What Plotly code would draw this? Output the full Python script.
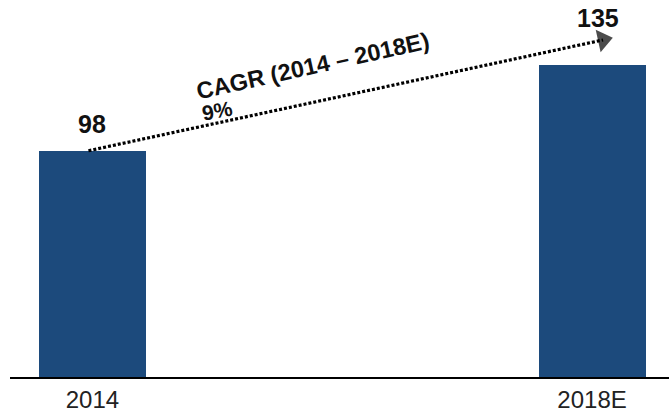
import plotly.graph_objects as go

# ---- data ----
categories = ["2014", "2018E"]
values = [98, 135]
cagr_label = "CAGR (2014 – 2018E)"
cagr_value = "9%"

# ---- style ----
BAR_COLOR = "#1C4A7C"
FONT = "Liberation Sans, Arial, sans-serif"
x_pos = list(range(len(categories)))

fig = go.Figure()

fig.add_trace(go.Bar(
    x=x_pos, y=values, width=0.214,
    marker=dict(color=BAR_COLOR, line=dict(width=0)),
    hoverinfo="skip", showlegend=False,
))

# dotted CAGR arrow from top of first bar to above second bar
arrow_x = [x_pos[0] - 0.008, x_pos[1] + 0.022]
arrow_y = [values[0], values[1] + 11]
fig.add_trace(go.Scatter(
    x=arrow_x, y=arrow_y, mode="lines+markers",
    line=dict(color="black", width=3.2, dash="3px,2px"),
    marker=dict(symbol="triangle-up", size=[0, 20], color="black",
                angleref="previous", line=dict(width=0)),
    hoverinfo="skip", showlegend=False,
))

# value labels
shifts = [(0, 11), (6, 31)]
for xi, v, (dx, dy) in zip(x_pos, values, shifts):
    fig.add_annotation(
        x=xi, y=v, text=f"<b>{v}</b>", showarrow=False,
        xanchor="center", yanchor="bottom", xshift=dx, yshift=dy,
        font=dict(family=FONT, size=25, color="#111111"),
    )

fig.add_annotation(
    x=0.441, y=134.5, text=f"<b>{cagr_label}</b>", showarrow=False,
    textangle=-12.5, font=dict(family=FONT, size=23.5, color="#111111"),
)
fig.add_annotation(
    x=0.251, y=115.6, text=f"<b>{cagr_value}</b>", showarrow=False,
    textangle=-10, font=dict(family=FONT, size=21, color="#111111"),
)

fig.update_layout(
    width=669, height=413,
    margin=dict(l=10, r=0, t=0, b=33),
    paper_bgcolor="white", plot_bgcolor="white",
    bargap=0,
    xaxis=dict(
        range=[-0.165, 1.154], tickvals=x_pos, ticktext=categories,
        showgrid=False, zeroline=False, showline=True,
        linecolor="black", linewidth=2, ticks="",
        tickfont=dict(family=FONT, size=24, color="#222222"),
        fixedrange=True,
    ),
    yaxis=dict(
        range=[0, 163.3], visible=False, showgrid=False, zeroline=False,
        fixedrange=True,
    ),
)

fig.write_html("out.html")
